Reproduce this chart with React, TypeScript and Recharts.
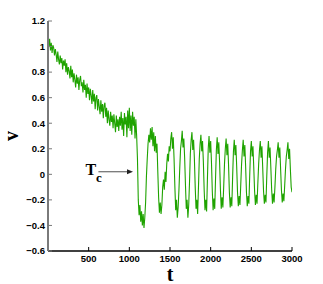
import React from 'react';
import { ComposedChart, Line, XAxis, YAxis, ReferenceLine, Label } from 'recharts';

// sampling step of the trace (t units)
const T_STEP = 10;

// v(t) before the transition, t = 0 .. 1090
const V_DECAY = [
  1.05, 1.0, 1.06, 0.97, 1.03, 0.95, 1.01, 0.99, 0.93, 0.98,
  0.94, 0.88, 0.96, 0.9, 0.86, 0.93, 0.87, 0.91, 0.82, 0.89,
  0.85, 0.9, 0.8, 0.87, 0.78, 0.84, 0.81, 0.75, 0.85, 0.76,
  0.82, 0.72, 0.79, 0.74, 0.68, 0.78, 0.71, 0.76, 0.66, 0.74,
  0.77, 0.69, 0.72, 0.64, 0.74, 0.66, 0.7, 0.6, 0.71, 0.63,
  0.68, 0.58, 0.67, 0.62, 0.55, 0.66, 0.57, 0.63, 0.51, 0.6,
  0.62, 0.5, 0.59, 0.53, 0.47, 0.58, 0.49, 0.55, 0.44, 0.54,
  0.56, 0.45, 0.52, 0.4, 0.5, 0.43, 0.38, 0.49, 0.41, 0.46,
  0.36, 0.47, 0.4, 0.33, 0.46, 0.37, 0.43, 0.34, 0.45, 0.38,
  0.49, 0.35, 0.44, 0.3, 0.48, 0.39, 0.45, 0.29, 0.5, 0.36,
  0.52, 0.34, 0.46, 0.31, 0.49, 0.38, 0.45, 0.28, 0.43, 0.3,
];

// v(t) after the transition, t = 1100 .. 3000
const V_OSC = [
  0.12, -0.2, -0.32, -0.24, -0.37, -0.29, -0.4, -0.31, -0.42, -0.34,
  -0.22, -0.02, 0.12, 0.24, 0.31, 0.25, 0.36, 0.27, 0.37, 0.22,
  0.33, 0.18, 0.3, 0.17, 0.24, 0.02, -0.18, -0.3, -0.22, -0.31,
  -0.24, -0.1, -0.04, -0.12, 0.02, -0.06, 0.08, 0.16, 0.1, 0.22,
  0.18, 0.28, 0.33, 0.2, 0.29, 0.12, -0.1, -0.28, -0.2, -0.34,
  -0.26, -0.12, 0.05, 0.2, 0.26, 0.34, 0.21, 0.28, 0.13, -0.08,
  -0.27, -0.2, -0.34, -0.24, -0.06, 0.16, 0.27, 0.33, 0.19, 0.27,
  0.12, -0.1, -0.27, -0.2, -0.31, -0.1, 0.12, 0.24, 0.31, 0.18,
  0.26, 0.1, -0.12, -0.28, -0.2, -0.29, -0.04, 0.2, 0.3, 0.17,
  0.26, 0.09, -0.13, -0.28, -0.19, -0.27, -0.03, 0.19, 0.29, 0.16,
  0.25, 0.09, -0.12, -0.27, -0.18, -0.26, -0.1, 0.08, 0.2, 0.28,
  0.15, 0.24, 0.07, -0.14, -0.26, -0.18, -0.25, -0.02, 0.18, 0.27,
  0.15, 0.23, 0.06, -0.14, -0.25, -0.17, -0.24, -0.08, 0.08, 0.19,
  0.27, 0.14, 0.23, 0.06, -0.14, -0.25, -0.17, -0.23, -0.01, 0.18,
  0.26, 0.14, 0.22, 0.05, -0.13, -0.24, -0.16, -0.23, -0.07, 0.08,
  0.19, 0.26, 0.13, 0.22, 0.05, -0.13, -0.23, -0.16, -0.22, -0.01,
  0.17, 0.26, 0.13, 0.21, 0.05, -0.12, -0.23, -0.15, -0.22, -0.1,
  0.04, 0.14, 0.19, 0.25, 0.13, 0.21, 0.04, -0.12, -0.22, -0.15,
  -0.21, -0.09, 0.04, 0.14, 0.19, 0.25, 0.12, 0.2, 0.04, -0.1,
  -0.14,
];

const X_TICKS = [500, 1000, 1500, 2000, 2500, 3000];
const Y_TICKS = [-0.6, -0.4, -0.2, 0, 0.2, 0.4, 0.6, 0.8, 1, 1.2];

// arrow pointing at the transition time Tc
const TC_ARROW = { from: 620, to: 1045, v: 0.02 };

const data = [...V_DECAY, ...V_OSC].map((v, i) => ({ t: i * T_STEP, v }));

const tickFont = {
  fontFamily: '"Liberation Sans", Arial, sans-serif',
  fontWeight: 700,
  fontSize: 9.5,
  fill: '#000',
};
const serif = '"Liberation Serif", "Times New Roman", serif';

const fmtY = (n: number) => String(n).replace('-', '\u2212');
const blank = () => '';

const TLabel = ({ viewBox }: any) => (
  <text x={viewBox.x + viewBox.width / 2} y={viewBox.y + 30} textAnchor="middle"
    fontFamily={serif} fontWeight={700} fontSize={20} fill="#000">t</text>
);

const VLabel = ({ viewBox }: any) => {
  const cy = viewBox.y + viewBox.height * 0.5;
  return (
    <text x={18} y={cy} textAnchor="middle" transform={`rotate(-90, 18, ${cy})`}
      fontFamily={serif} fontWeight={700} fontSize={20} fill="#000">v</text>
  );
};

const TcArrow = (p: any) => {
  const { x1, y1, x2, y2 } = p;
  return (
    <g>
      <line x1={x1} y1={y1} x2={x2 - 5} y2={y2} stroke="#222" strokeWidth={0.8} />
      <polygon points={`${x2},${y2} ${x2 - 6},${y2 - 2.5} ${x2 - 6},${y2 + 2.5}`} fill="#222" />
      <text x={x1 - 13} y={y1 + 3} fontFamily={serif} fontWeight={700} fontSize={16} fill="#000">
        T<tspan dy={7} fontSize={13}>c</tspan>
      </text>
    </g>
  );
};

export default function App() {
  return (
    <div style={{ position: 'absolute', left: 0, top: 0, background: '#fff' }}>
      <ComposedChart width={323} height={284} data={data}
        margin={{ top: 21, right: 31, bottom: 0, left: 0 }}>
        <XAxis dataKey="t" type="number" domain={[0, 3000]} ticks={X_TICKS} allowDataOverflow
          height={33} tick={tickFont} tickSize={-4} tickMargin={8}
          axisLine={{ stroke: '#000', strokeWidth: 1.3 }} tickLine={{ stroke: '#000' }}>
          <Label content={TLabel} />
        </XAxis>
        <XAxis xAxisId="top" orientation="top" dataKey="t" type="number" domain={[0, 3000]}
          ticks={X_TICKS} allowDataOverflow height={0} tickSize={-4} tickFormatter={blank}
          axisLine={{ stroke: '#888', strokeWidth: 1 }} tickLine={{ stroke: '#888' }} />
        <YAxis type="number" domain={[-0.6, 1.2]} ticks={Y_TICKS} allowDataOverflow
          width={48} tick={tickFont} tickSize={-4} tickMargin={7} tickFormatter={fmtY}
          axisLine={{ stroke: '#7a7a7a', strokeWidth: 2 }} tickLine={{ stroke: '#7a7a7a' }}>
          <Label content={VLabel} />
        </YAxis>
        <YAxis yAxisId="right" orientation="right" type="number" domain={[-0.6, 1.2]}
          ticks={Y_TICKS} allowDataOverflow width={0} tickSize={-4} tickFormatter={blank}
          axisLine={{ stroke: '#000', strokeWidth: 1.3 }} tickLine={{ stroke: '#000' }} />
        <Line dataKey="v" type="linear" stroke="#1fa300" strokeWidth={1.1} dot={false}
          isAnimationActive={false} />
        <ReferenceLine
          segment={[{ x: TC_ARROW.from, y: TC_ARROW.v }, { x: TC_ARROW.to, y: TC_ARROW.v }]}
          shape={TcArrow} />
      </ComposedChart>
    </div>
  );
}
